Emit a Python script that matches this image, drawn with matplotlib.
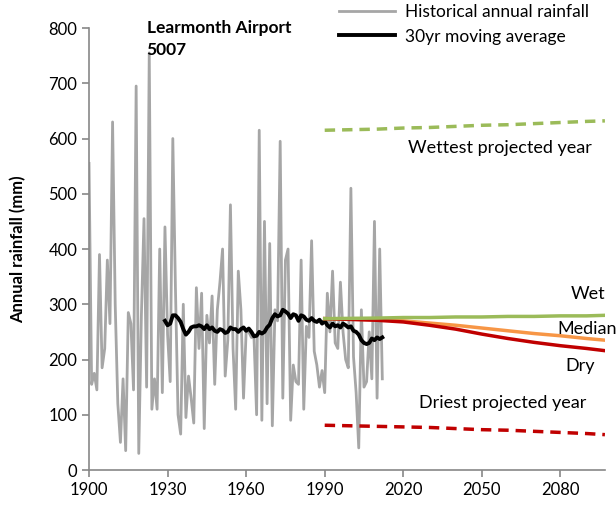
import matplotlib.pyplot as plt

plt.rcParams['font.family'] = ['Lato', 'DejaVu Sans']

# historical annual rainfall, Learmonth Airport (mm)
years = list(range(1900, 2013))
rain = [555, 155, 175, 145, 390, 185, 220, 380, 265, 630,
        300, 120, 50, 165, 35, 285, 265, 145, 695, 30,
        280, 455, 150, 755, 110, 165, 110, 400, 140, 440,
        245, 160, 600, 330, 100, 65, 300, 95, 170, 130,
        85, 330, 220, 320, 75, 280, 230, 315, 155, 290,
        340, 400, 170, 235, 480, 220, 110, 360, 290, 130,
        250, 250, 240, 240, 100, 615, 90, 450, 120, 410,
        80, 290, 270, 595, 130, 380, 400, 90, 190, 160,
        155, 380, 110, 260, 240, 415, 215, 190, 150, 180,
        140, 320, 250, 360, 230, 220, 340, 250, 200, 185,
        510, 205, 140, 40, 290, 150, 160, 250, 165, 450,
        130, 400, 165]

# 30 year moving average
ma_years = list(range(1929, 2013))
ma = [270, 262, 265, 280, 280, 275, 268, 255, 245, 250,
      258, 260, 260, 262, 260, 255, 262, 255, 258, 252,
      250, 255, 253, 248, 250, 258, 255, 255, 250, 255,
      258, 252, 256, 250, 242, 243, 250, 247, 250, 258,
      263, 275, 282, 278, 280, 290, 287, 283, 275, 282,
      280, 270, 280, 278, 272, 270, 275, 270, 268, 272,
      265, 270, 262, 258, 265, 260, 262, 258, 265, 262,
      258, 260, 252, 250, 245, 235, 230, 228, 230, 238,
      235, 240, 237, 240]

# projections
proj_years = [1990, 2010, 2020, 2030, 2040, 2050, 2060, 2070, 2080, 2090, 2097]
wet = [274, 275, 276, 276, 277, 277, 278, 278, 279, 279, 280]
median = [274, 272, 270, 266, 262, 257, 252, 247, 243, 238, 235]
dry = [274, 271, 268, 262, 255, 246, 238, 231, 225, 220, 216]
wettest = [615, 617, 619, 620, 622, 624, 625, 627, 629, 631, 632]
driest = [81, 79, 78, 77, 75, 73, 72, 70, 68, 66, 64]

fig = plt.figure(figsize=(6.16, 5.08), dpi=100)
ax = fig.add_axes([0.1445, 0.0748, 0.8375, 0.870])

ax.plot(years, rain, color='#A6A6A6', lw=2, label='Historical annual rainfall')
ax.plot(ma_years, ma, color='black', lw=2.8, label='30yr moving average')
ax.plot(proj_years, wettest, color='#9BBB59', lw=2.5, ls=(0, (3, 2)))
ax.plot(proj_years, driest, color='#C00000', lw=2.5, ls=(0, (3, 2)))
ax.plot(proj_years, median, color='#F79646', lw=2.5)
ax.plot(proj_years, dry, color='#C00000', lw=2.5)
ax.plot(proj_years, wet, color='#9BBB59', lw=2.5)

ax.set_xlim(1900, 2097)
ax.set_ylim(0, 800)
ax.set_xticks(range(1900, 2090, 30))
ax.set_yticks(range(0, 801, 100))
ax.tick_params(labelsize=12, color='#888888', length=5, width=1.2)
for s in ['top', 'right']:
    ax.spines[s].set_visible(False)
for s in ['left', 'bottom']:
    ax.spines[s].set_color('#888888')
    ax.spines[s].set_linewidth(1.2)

ax.set_ylabel('Annual rainfall (mm)', fontsize=12, fontweight='bold', labelpad=16)
ax.text(1922, 814, 'Learmonth Airport\n5007', fontsize=12.5, fontweight='bold', va='top', linespacing=1.4)

ax.text(2057, 583, 'Wettest projected year', fontsize=13, ha='center', va='center')
ax.text(2097, 318, 'Wet', fontsize=13, ha='right', va='center')
ax.text(2101.5, 255, 'Median', fontsize=13, ha='right', va='center', clip_on=False)
ax.text(2093, 188, 'Dry', fontsize=13, ha='right', va='center')
ax.text(2058, 122, 'Driest projected year', fontsize=13, ha='center', va='center')

ax.legend(loc='upper right', bbox_to_anchor=(1.0, 1.09), frameon=False, fontsize=12.5,
          handlelength=3.2, labelspacing=0.5, handletextpad=0.6)

fig.savefig('out.png')
